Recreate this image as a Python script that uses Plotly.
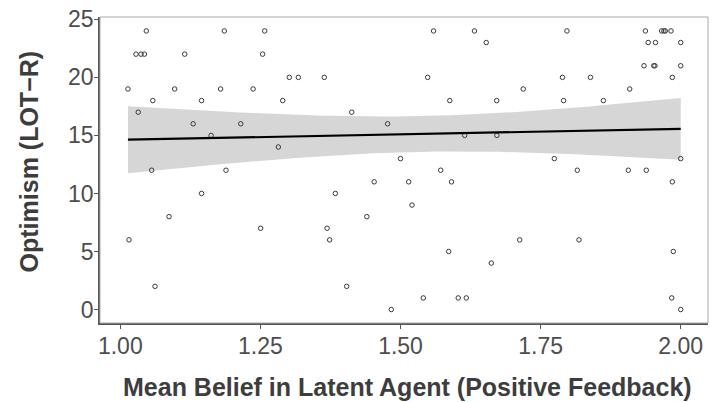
import numpy as np
import plotly.graph_objects as go

belief = [1.0464, 1.1856, 1.028, 1.037, 1.043, 1.115, 1.0137, 1.097, 1.179, 1.237,
          1.058, 1.145, 1.032, 1.130, 1.215, 1.162, 1.056, 1.1886, 1.145, 1.087,
          1.0155, 1.062, 1.2577, 1.254, 1.3016, 1.3177, 1.364, 1.2898, 1.413, 1.477,
          1.282, 1.500, 1.453, 1.5146, 1.3837, 1.440, 1.2505, 1.369, 1.3736, 1.404,
          1.4836, 1.559, 1.632, 1.653, 1.5485, 1.719, 1.588, 1.6716, 1.6145, 1.672,
          1.7745, 1.5717, 1.591, 1.5205, 1.7127, 1.586, 1.662, 1.5407, 1.603, 1.6174,
          1.797, 1.937, 1.966, 1.970, 1.9725, 1.9827, 1.942, 1.955, 2.0, 1.9345,
          1.952, 1.954, 2.0, 1.789, 1.839, 1.985, 1.909, 1.791, 1.862, 2.0,
          1.8155, 1.9065, 1.9386, 1.985, 1.8185, 1.9868, 1.984, 2.0]
optimism = [24, 24, 22, 22, 22, 22, 19, 19, 19, 19,
            18, 18, 17, 16, 16, 15, 12, 12, 10, 8,
            6, 2, 24, 22, 20, 20, 20, 18, 17, 16,
            14, 13, 11, 11, 10, 8, 7, 7, 6, 2,
            0, 24, 24, 23, 20, 19, 18, 18, 15, 15,
            13, 12, 11, 9, 6, 5, 4, 1, 1, 1,
            24, 24, 24, 24, 24, 24, 23, 23, 23, 21,
            21, 21, 21, 20, 20, 20, 19, 18, 18, 13,
            12, 12, 12, 11, 6, 5, 1, 0]

x_ticks = [1.00, 1.25, 1.50, 1.75, 2.00]
x_tick_labels = ["1.00", "1.25", "1.50", "1.75", "2.00"]
y_ticks = [0, 5, 10, 15, 20, 25]
x_title = "Mean Belief in Latent Agent (Positive Feedback)"
y_title = "Optimism (LOT\u2212R)"

x = np.array(belief, dtype=float)
y = np.array(optimism, dtype=float)
n = len(x)
b1, b0 = np.polyfit(x, y, 1)
resid = y - (b0 + b1 * x)
df = n - 2
s = np.sqrt(np.sum(resid ** 2) / df)
z = 1.959964
tq = z + (z**3 + z) / (4 * df) + (5 * z**5 + 16 * z**3 + 3 * z) / (96 * df**2)
xs = np.linspace(x.min(), x.max(), 80)
ys = b0 + b1 * xs
se = s * np.sqrt(1 / n + (xs - x.mean()) ** 2 / np.sum((x - x.mean()) ** 2))
upper = ys + tq * se
lower = ys - tq * se

fig = go.Figure()
fig.add_trace(go.Scatter(
    x=np.concatenate([xs, xs[::-1]]), y=np.concatenate([upper, lower[::-1]]),
    fill="toself", fillcolor="#d6d6d6", line=dict(width=0), mode="lines",
    hoverinfo="skip", showlegend=False))
fig.add_trace(go.Scatter(
    x=x, y=y, mode="markers",
    marker=dict(symbol="circle-open", size=4.5, color="#3a3a3a", line=dict(width=1)),
    showlegend=False))
fig.add_trace(go.Scatter(
    x=xs, y=ys, mode="lines", line=dict(color="black", width=2.2), showlegend=False))

axis_font = dict(family="Liberation Sans, Arial, sans-serif", size=23, color="#4d4d4d")
title_font = dict(family="Liberation Sans, Arial, sans-serif", size=25, color="#3d3d3d")

fig.update_layout(
    width=720, height=402,
    margin=dict(l=100, r=12, t=17, b=79),
    plot_bgcolor="white", paper_bgcolor="white",
    xaxis=dict(range=[0.9638, 2.0487], tickvals=x_ticks, ticktext=x_tick_labels,
               showgrid=False, zeroline=False, showline=True, linecolor="#555555",
               linewidth=1.5, ticks="outside", ticklen=4, tickcolor="#555555",
               tickfont=axis_font, ticklabelstandoff=-2, automargin=False),
    yaxis=dict(range=[-1.16, 25.2], tickvals=y_ticks,
               showgrid=False, zeroline=False, showline=True, linecolor="#555555",
               linewidth=1.5, ticks="outside", ticklen=4, tickcolor="#555555",
               tickfont=axis_font, ticklabelstandoff=-4, automargin=False),
    shapes=[dict(type="rect", xref="paper", yref="paper", x0=0, x1=1, y0=0, y1=1,
                 line=dict(color="#aaaaaa", width=1), layer="above")],
    annotations=[
        dict(text="<b>" + x_title + "</b>", xref="paper", yref="paper",
             x=0.505, y=-0.209, xanchor="center", yanchor="middle",
             showarrow=False, font=title_font),
        dict(text="<b>" + y_title + "</b>", xref="paper", yref="paper",
             x=-0.1168, y=0.528, xanchor="center", yanchor="middle", textangle=-90,
             showarrow=False, font=title_font),
    ],
)

fig.write_html("out.html")
